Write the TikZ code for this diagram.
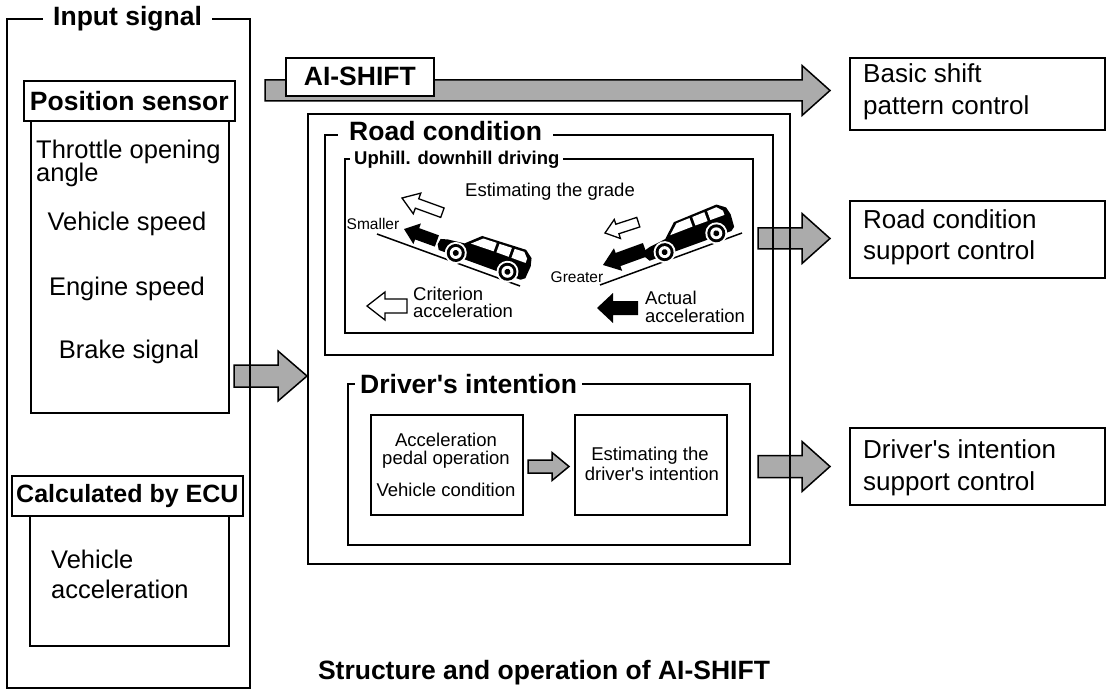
\documentclass[tikz,border=0pt]{standalone}
\usepackage{fontspec}
\setmainfont{Liberation Sans}[Ligatures=TeXOff]
\newcommand\fhead{\fontsize{26.5}{28}\selectfont\bfseries}
\newcommand\fecu{\fontsize{25}{27}\selectfont\bfseries}
\newcommand\fbody{\fontsize{25.5}{27}\selectfont}
\newcommand\fside{\fontsize{26}{28}\selectfont}
\newcommand\fsmall{\fontsize{18.5}{19}\selectfont}
\newcommand\fsmallb{\fontsize{18.5}{19}\selectfont\bfseries}
\newcommand\ftiny{\fontsize{15.5}{16}\selectfont}
% horizontal block arrow: tail x, head base x, tip x, centre y, shaft half, head half
\newcommand\blockarrow[6]{%
  \filldraw[blockarr] ({#1},{#4-#5}) -- ({#2},{#4-#5}) -- ({#2},{#4-#6}) -- ({#3},{#4})
    -- ({#2},{#4+#6}) -- ({#2},{#4+#5}) -- ({#1},{#4+#5}) -- cycle;}
% left-pointing arrow with its tip at the origin: length, head length, head half, shaft half, style
\newcommand\tiparrow[5]{%
  \path[#5] (0,0) -- ({#2},{-#3}) -- ({#2},{-#4}) -- ({#1},{-#4}) -- ({#1},{#4})
    -- ({#2},{#4}) -- ({#2},{#3}) -- cycle;}
\begin{document}
\begin{tikzpicture}[x=1pt,y=-1pt,
  frame/.style={draw=black, line width=1.7pt, anchor=north west, inner sep=0pt},
  blockarr/.style={fill=black!33, draw=black, line width=1.5pt, line join=miter},
  title/.style={fill=white, anchor=base west, inner ysep=2pt},
  hollow/.style={fill=white, draw=black, line width=1.3pt, line join=miter},
  solid/.style={fill=black},
  slope/.style={draw=black, line width=1.5pt},
  suv/.pic={
    % body of a sport utility vehicle facing left, ground line at y=0
    \fill[black] (-45,-6) -- (-48,-11) -- (-47,-17) -- (-40,-19) -- (-23,-21)
      -- (-9,-34) -- (37,-36) -- (45,-30) -- (47,-22) -- (46,-9) -- (42,-6) -- cycle;
    \fill[white] (-17,-23) -- (-7,-32) -- (7,-32.5) -- (7,-23.5) -- cycle;
    \fill[white] (10,-23.5) -- (10,-32.5) -- (23,-33) -- (23,-23.5) -- cycle;
    \fill[white] (26,-23.5) -- (26,-33) -- (36,-33.5) -- (41,-28) -- (41,-23.5) -- cycle;
    \foreach \wx in {-28,27} {
      \fill[white] (\wx,-9) circle (11);
      \fill[black] (\wx,-9) circle (9);
      \fill[white] (\wx,-9) circle (6);
      \fill[black] (\wx,-9) circle (3);
    }
  }]
\useasboundingbox (0,0) rectangle (1106,695);
\fill[white] (0,0) rectangle (1106,695);

% ---- block arrows (drawn first, frame lines run over them)
\blockarrow{265}{802}{830}{90.5}{10.5}{25}
\blockarrow{234}{278}{307}{376}{11}{25}
\blockarrow{758}{802}{830}{238.5}{10.5}{25}
\blockarrow{758}{802}{830}{466.5}{11}{25}
\blockarrow{528}{552}{569}{466.5}{6.5}{14}

% ---- input column
\node[frame, minimum width=243, minimum height=669] (input) at (6,18) {};
\node[frame, minimum width=198, minimum height=292] (posbody) at (30,120) {};
\node[frame, fill=white, minimum width=211, minimum height=40] (poshead) at (23,80) {};
\node (postxt) at (poshead.center) {\fhead Position sensor};
\node[frame, minimum width=199, minimum height=130] (ecubody) at (29,515) {};
\node[frame, fill=white, minimum width=231, minimum height=40] (ecuhead) at (11,475) {};
\node (ecutxt) at (ecuhead.center) {\fecu Calculated by ECU};
\node[title, inner xsep=10pt] (inputtitle) at (43,26) {\fhead Input signal};

\node[anchor=base west, inner sep=0pt] (thr1) at (36,159) {\fbody Throttle opening};
\node[anchor=base west, inner sep=0pt] (thr2) at (36,182) {\fbody angle};
\node[anchor=base, inner sep=0pt] (vspeed) at (127,231) {\fbody Vehicle speed};
\node[anchor=base, inner sep=0pt] (espeed) at (127,295) {\fbody Engine speed};
\node[anchor=base, inner sep=0pt] (brake) at (129,358) {\fbody Brake signal};
\node[anchor=base west, inner sep=0pt] (vacc1) at (51,568) {\fbody Vehicle};
\node[anchor=base west, inner sep=0pt] (vacc2) at (51,598) {\fbody acceleration};

% ---- AI-SHIFT label
\node[frame, fill=white, minimum width=148, minimum height=38] (aibox) at (285,57) {};
\node (aitxt) at (aibox.center) {\fhead AI-SHIFT};

% ---- main block
\node[frame, minimum width=482, minimum height=450] (main) at (307,113) {};
\node[frame, minimum width=448, minimum height=220] (road) at (324,134) {};
\node[frame, minimum width=408, minimum height=174] (uphill) at (344,158) {};
\node[frame, minimum width=402, minimum height=161] (driver) at (347,383) {};
\node[title, inner xsep=11pt] (roadtitle) at (338,141) {\fhead Road condition};
\node[title, inner xsep=4pt] (uphilltitle) at (350,165) {\fsmallb Uphill. downhill driving};
\node[title, inner xsep=5pt] (drivertitle) at (355,393) {\fhead Driver's intention};

% ---- driver's intention contents
\node[frame, minimum width=152, minimum height=100] (pedal) at (370,414) {};
\node[frame, minimum width=152, minimum height=100] (estim) at (574,414) {};
\node[anchor=base, inner sep=0pt] (pedal1) at (446,446) {\fsmall Acceleration};
\node[anchor=base, inner sep=0pt] (pedal2) at (446,464) {\fsmall pedal operation};
\node[anchor=base, inner sep=0pt] (pedal3) at (446,496) {\fsmall Vehicle condition};
\node[anchor=base, inner sep=0pt] (estim1) at (650,460) {\fsmall Estimating the};
\node[anchor=base, inner sep=0pt] (estim2) at (652,480) {\fsmall driver's intention};

% ---- uphill / downhill sketch
\node[anchor=base, inner sep=0pt] (grade) at (550,197) {\fsmall Estimating the grade};
\node[anchor=base, inner sep=0pt] (smaller) at (373,230) {\ftiny Smaller};
\node[anchor=base, inner sep=0pt] (greater) at (577,282) {\ftiny Greater};
\node[anchor=base west, inner sep=0pt] (crit1) at (413,300) {\fsmall Criterion};
\node[anchor=base west, inner sep=0pt] (crit2) at (413,317) {\fsmall acceleration};
\node[anchor=base west, inner sep=0pt] (act1) at (645,305) {\fsmall Actual};
\node[anchor=base west, inner sep=0pt] (act2) at (645,322) {\fsmall acceleration};

\draw[slope] (377,234) -- (520,286);
\draw[slope] (600,285) -- (742,233);
\pic[rotate=-20] at (479,271) {suv};
\pic[rotate=20] at (694,251) {suv};

\begin{scope}[shift={(404,229)}, rotate=-20]
  \tiparrow{35}{14}{11}{6}{solid}
\end{scope}
\begin{scope}[shift={(402,198)}, rotate=-20]
  \tiparrow{43}{16}{11}{5}{hollow}
\end{scope}
\begin{scope}[shift={(603,265)}, rotate=20]
  \tiparrow{45}{16}{12}{7}{solid}
\end{scope}
\begin{scope}[shift={(605,233)}, rotate=18]
  \tiparrow{35}{13}{10}{5}{hollow}
\end{scope}
\begin{scope}[shift={(367,306)}]
  \tiparrow{40}{18}{14}{7}{hollow}
\end{scope}
\begin{scope}[shift={(597,308)}]
  \tiparrow{41}{16}{15}{7}{solid}
\end{scope}

% ---- outputs
\node[frame, minimum width=255, minimum height=72] (basic) at (849,57) {};
\node[frame, minimum width=255, minimum height=77] (roadctl) at (849,200) {};
\node[frame, minimum width=255, minimum height=77] (drvctl) at (849,427) {};
\node[anchor=base west, inner sep=0pt] (basic1) at (863,83) {\fside Basic shift};
\node[anchor=base west, inner sep=0pt] (basic2) at (863,115) {\fside pattern control};
\node[anchor=base west, inner sep=0pt] (roadctl1) at (863,229) {\fside Road condition};
\node[anchor=base west, inner sep=0pt] (roadctl2) at (863,260) {\fside support control};
\node[anchor=base west, inner sep=0pt] (drvctl1) at (863,458) {\fside Driver's intention};
\node[anchor=base west, inner sep=0pt] (drvctl2) at (863,490) {\fside support control};

% ---- caption
\node[anchor=base, inner sep=0pt] (caption) at (544,679) {\fhead Structure and operation of AI-SHIFT};
\end{tikzpicture}
\end{document}
